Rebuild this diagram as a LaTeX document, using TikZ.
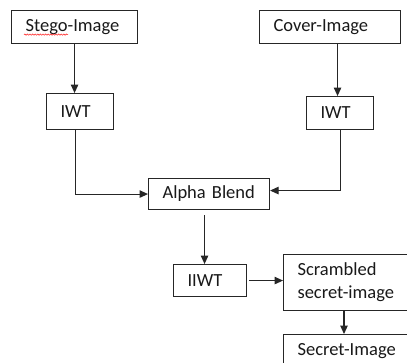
\documentclass[tikz,border=0pt]{standalone}
\usepackage{fontspec}
\setmainfont{Carlito}
\usetikzlibrary{arrows.meta,decorations.pathmorphing}

\tikzset{
  box/.style={draw=black!85, line width=1.1pt, anchor=north west,
    inner xsep=14pt, inner ysep=0pt, align=left, text=black!90,
    font=\fontsize{18.5}{23}\selectfont},
  flow/.style={draw=black!85, line width=1.1pt,
    -{Triangle[length=8.5pt,width=7.5pt]}},
  spell/.style={draw=red!80, line width=0.6pt,
    decorate, decoration={snake, amplitude=0.6pt, segment length=2.6pt}}
}

\begin{document}
\begin{tikzpicture}[x=1pt,y=-1pt]
  \clip (0,0) rectangle (407,362);
  \fill[white] (0,0) rectangle (407,362);

  % boxes
  \node[box, text width=98pt,  minimum height=33pt] (stego) at (11,10)  {Stego-Image};
  \node[box, text width=113pt, minimum height=33pt] (cover) at (259,10) {Cover-Image};
  \node[box, text width=39pt,  minimum height=36pt] (iwtA)  at (46,93)  {IWT};
  \node[box, text width=39pt,  minimum height=33pt] (iwtB)  at (306,96) {IWT};
  \node[box, text width=93pt,  minimum height=31pt] (alpha) at (148,178) {Alpha Blend};
  \node[box, text width=45pt,  minimum height=32pt] (iiwt)  at (173,264) {IIWT};
  \node[box, text width=122pt, minimum height=56pt] (scr)   at (283,254) {Scrambled\\secret-image};
  \node[box, text width=122pt, minimum height=33pt] (sec)   at (283,334) {Secret-Image};

  % spell-check underline
  \draw[spell] (24,34.6) -- (68,34.6);

  % connectors
  \draw[flow] (stego.south) -- (stego.south |- iwtA.north);
  \draw[flow] ([xshift=-2.5pt]iwtB.north |- cover.south) -- ([xshift=-2.5pt]iwtB.north);
  \draw[flow] ([xshift=-4.5pt]iwtA.south) |- (alpha.west);
  \draw[flow] (iwtB.south) |- ([yshift=3.5pt]alpha.east);
  \draw[flow, shorten <=5pt] ([xshift=-4.5pt]alpha.south) -- ([xshift=-4.5pt]alpha.south |- iiwt.north);
  \draw[flow, shorten <=2pt] (iiwt.east) -- (iiwt.east -| scr.west);
  \draw[flow] ([xshift=61pt]scr.south west) -- ([xshift=61pt]sec.north west);
\end{tikzpicture}
\end{document}
